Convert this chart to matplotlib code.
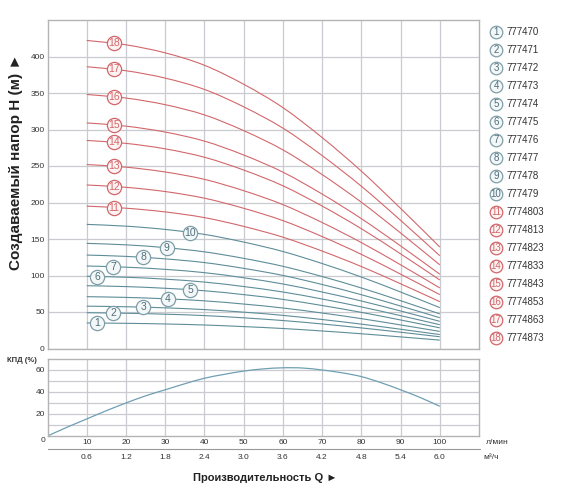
import numpy as np
import matplotlib
matplotlib.use("Agg")
import matplotlib.pyplot as plt
from matplotlib.lines import Line2D
from matplotlib.path import Path
from matplotlib.patches import PathPatch
from matplotlib.transforms import blended_transform_factory

plt.rcParams['font.family'] = ['Liberation Sans', 'DejaVu Sans']

# ---------------- data ----------------
flow_lpm = [10, 20, 30, 40, 50, 60, 70, 80, 90, 100]

head_1 = [35, 34.5, 33.6, 32.2, 30.0, 27.4, 24.0, 20.2, 15.9, 11.5]
head_2 = [49, 48.3, 47.0, 45.1, 42.0, 38.3, 33.6, 28.2, 22.3, 16.1]
head_3 = [58, 57.2, 55.7, 53.3, 49.8, 45.4, 39.7, 33.4, 26.4, 19.1]
head_4 = [71, 70.0, 68.1, 65.3, 60.9, 55.5, 48.6, 40.9, 32.3, 23.4]
head_5 = [86, 84.8, 82.5, 79.1, 73.8, 67.3, 58.9, 49.5, 39.1, 28.3]
head_6 = [99, 97.6, 95.0, 91.0, 84.9, 77.4, 67.8, 57.0, 45.0, 32.6]
head_7 = [113, 111.4, 108.4, 103.9, 96.9, 88.4, 77.4, 65.1, 51.4, 37.2]
head_8 = [128, 126.2, 122.8, 117.7, 109.8, 100.1, 87.7, 73.7, 58.2, 42.2]
head_9 = [144, 142.0, 138.2, 132.4, 123.5, 112.6, 98.6, 82.9, 65.5, 47.4]
head_10 = [170, 167.6, 163.1, 156.3, 145.8, 132.9, 116.4, 97.9, 77.4, 56.0]
head_11 = [195, 192.2, 187.1, 179.3, 167.3, 152.5, 133.5, 112.3, 88.7, 64.2]
head_12 = [224, 220.8, 215.0, 205.9, 192.1, 175.2, 153.4, 129.0, 101.9, 73.8]
head_13 = [252, 248.4, 241.8, 231.7, 216.2, 197.1, 172.6, 145.1, 114.7, 83.0]
head_14 = [285, 281.0, 273.5, 262.0, 244.5, 222.9, 195.2, 164.1, 129.7, 93.9]
head_15 = [309, 304.6, 296.5, 284.1, 265.1, 241.6, 211.6, 177.9, 140.6, 101.8]
head_16 = [348, 343.1, 334.0, 320.0, 298.5, 272.1, 238.3, 200.4, 158.3, 114.6]
head_17 = [386, 380.5, 370.4, 354.9, 331.1, 301.9, 264.3, 222.3, 175.6, 127.1]
head_18 = [422, 416, 405, 388, 362, 330, 289, 243, 192, 139]

heads = [head_1, head_2, head_3, head_4, head_5, head_6, head_7, head_8, head_9,
         head_10, head_11, head_12, head_13, head_14, head_15, head_16, head_17, head_18]

label_flow = [12.7, 16.8, 24.4, 30.6, 36.4, 12.7, 16.8, 24.4, 30.4, 36.4,
              16.9, 16.9, 16.9, 16.9, 16.9, 16.9, 16.9, 16.9]

codes = ["777470", "777471", "777472", "777473", "777474", "777475", "777476",
         "777477", "777478", "777479", "7774803", "7774813", "7774823", "7774833",
         "7774843", "7774853", "7774863", "7774873"]

eff_flow = [0, 5, 10, 15, 20, 25, 30, 35, 40, 45, 50, 55, 60, 65, 70, 75, 80, 85, 90, 95, 100]
eff_pct = [0, 8, 15.5, 23, 30, 36.5, 42, 47.5, 52.5, 56, 59, 61, 62, 61.8, 60, 57.5, 54, 48.5, 42, 35, 27]

lpm_ticks = [10, 20, 30, 40, 50, 60, 70, 80, 90, 100]
m3h_labels = ["0.6", "1.2", "1.8", "2.4", "3.0", "3.6", "4.2", "4.8", "5.4", "6.0"]

# ---------------- style ----------------
W, H = 570, 491
BLUE = "#5e8d99"
RED = "#d2676b"
BLUE_EDGE = "#7e9ea8"
BLUE_TXT = "#4f6e7a"
GRID = "#c9cbd0"
FRAME = "#b4b4b4"
TXT = "#333333"


def fx(px):
    return px / W


def fy(py):
    return 1 - py / H


def smooth_path(xs, ys):
    """Catmull-Rom curve through the data points, as a cubic Bezier path."""
    p = np.column_stack([xs, ys]).astype(float)
    n = len(p)
    verts = [p[0]]
    codes_ = [Path.MOVETO]
    for i in range(n - 1):
        p0 = p[i - 1] if i > 0 else p[i]
        p1 = p[i]
        p2 = p[i + 1]
        p3 = p[i + 2] if i + 2 < n else p[i + 1]
        c1 = p1 + (p2 - p0) / 6.0
        c2 = p2 - (p3 - p1) / 6.0
        verts += [c1, c2, p2]
        codes_ += [Path.CURVE4] * 3
    return Path(verts, codes_)


fig = plt.figure(figsize=(W / 100, H / 100), dpi=100)

L, R = 47.5, 479
ax = fig.add_axes([fx(L), fy(348.5), fx(R - L), (348.5 - 20) / H])
ax2 = fig.add_axes([fx(L), fy(436), fx(R - L), (436 - 359) / H])

for a in (ax, ax2):
    for s in a.spines.values():
        s.set_color(FRAME)
        s.set_linewidth(1.0)
    a.set_xlim(0, 110)
    a.set_xticks(lpm_ticks)
    a.tick_params(length=0, labelsize=6, colors=TXT, pad=2)
    a.grid(True, color=GRID, linewidth=0.9)
    a.set_axisbelow(True)

# top panel
ax.set_ylim(0, 450)
ax.set_yticks(range(0, 401, 50))
ax.set_xticklabels([])
for i, h in enumerate(heads):
    col = BLUE if i < 10 else RED
    ax.add_patch(PathPatch(smooth_path(flow_lpm, h), fill=False, edgecolor=col,
                           linewidth=0.8, zorder=2))
    lq = label_flow[i]
    lh = np.interp(lq, flow_lpm, h)
    fc = "#f3f7f8" if i < 10 else "#fdf3f3"
    tc = BLUE_TXT if i < 10 else RED
    ec = BLUE_EDGE if i < 10 else RED
    ax.scatter([lq], [lh], s=105, marker="o", facecolor=fc, edgecolor=ec,
               linewidth=0.9, zorder=4)
    ax.text(lq, lh, str(i + 1), ha="center", va="center", fontsize=7.5, color=tc, zorder=5)

fig.text(fx(16), fy(162), "Создаваемый напор H (м) ►", fontsize=11, fontweight="bold",
         rotation=90, ha="center", va="center", color="#222222")

# bottom panel
ax2.set_ylim(0, 70)
ax2.set_yticks([20, 40, 60])
ax2.set_yticks([10, 30, 50], minor=True)
ax2.tick_params(which="minor", length=0)
ax2.grid(True, which="minor", axis="y", color=GRID, linewidth=0.9)
ax2.add_patch(PathPatch(smooth_path(eff_flow, eff_pct), fill=False, edgecolor="#6f9fb3",
                        linewidth=0.9))
ax2.set_xticklabels([str(t) for t in lpm_ticks])
ax2.text(-1.2, -4.5, "0", ha="center", va="center", fontsize=6, color=TXT)

fig.text(fx(7), fy(361), "КПД (%)", fontsize=5.5, fontweight="bold", color=TXT, va="center")

# second x-axis row (m3/h)
fig.add_artist(Line2D([fx(48), fx(480)], [fy(449), fy(449)], color="#999999", linewidth=0.8))
tr = blended_transform_factory(ax2.transData, fig.transFigure)
for t, lab in zip(lpm_ticks, m3h_labels):
    ax2.text(t, fy(457.5), lab, transform=tr, ha="center", va="center", fontsize=6, color=TXT)
fig.text(fx(486), fy(443), "л/мин", fontsize=6, color=TXT, va="center")
fig.text(fx(483), fy(457.5), "м³/ч", fontsize=6, color=TXT, va="center")

fig.text(fx(265), fy(478), "Производительность Q ►", fontsize=8, fontweight="bold",
         ha="center", va="center", color="#222222")

# legend
lax = fig.add_axes([0, 0, 1, 1])
lax.set_xlim(0, W)
lax.set_ylim(H, 0)
lax.axis("off")
for i, code in enumerate(codes):
    y = 31.7 + 18.0 * i
    ec = BLUE_EDGE if i < 10 else RED
    tc = BLUE_TXT if i < 10 else RED
    fc = "#f3f7f8" if i < 10 else "#fdf3f3"
    lax.scatter([496], [y], s=82, marker="o", facecolor=fc, edgecolor=ec, linewidth=0.9)
    lax.text(496, y, str(i + 1), ha="center", va="center", fontsize=7, color=tc)
    lax.text(506, y, code, ha="left", va="center", fontsize=7, color=TXT)

fig.savefig("out.png", dpi=100)
